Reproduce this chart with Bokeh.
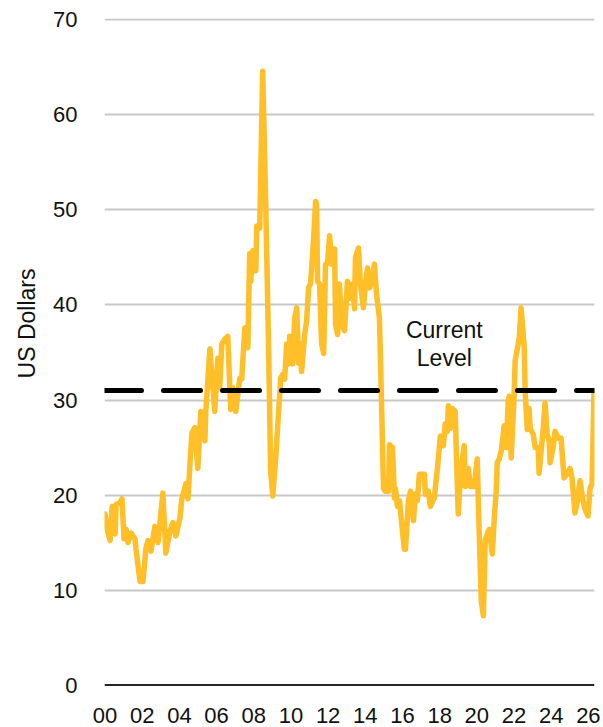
import math
from bokeh.plotting import figure
from bokeh.models import Range1d, FixedTicker, Span, Title, ColumnDataSource
from bokeh.embed import file_html
from bokeh.resources import INLINE
from bokeh.core.properties import value

# ---- data ----
years = [
    2000.00, 2000.11, 2000.27, 2000.38, 2000.54, 2000.59, 2000.81, 2000.91, 2001.02, 2001.13,
    2001.23, 2001.40, 2001.61, 2001.66, 2001.88, 2002.04, 2002.20, 2002.31, 2002.47, 2002.68,
    2002.85, 2003.11, 2003.27, 2003.49, 2003.65, 2003.81, 2004.03, 2004.13, 2004.35, 2004.46,
    2004.56, 2004.67, 2004.83, 2004.99, 2005.15, 2005.37, 2005.42, 2005.64, 2005.90, 2006.07,
    2006.17, 2006.28, 2006.44, 2006.60, 2006.76, 2006.87, 2007.03, 2007.25, 2007.35, 2007.52,
    2007.68, 2007.78, 2007.84, 2007.94, 2008.11, 2008.16, 2008.32, 2008.48, 2008.64, 2008.80,
    2008.91, 2009.02, 2009.18, 2009.45, 2009.56, 2009.66, 2009.77, 2009.88, 2009.93, 2010.09,
    2010.20, 2010.31, 2010.41, 2010.47, 2010.57, 2010.74, 2010.84, 2010.95, 2011.06, 2011.22,
    2011.33, 2011.38, 2011.43, 2011.54, 2011.65, 2011.76, 2011.86, 2011.97, 2012.08, 2012.19,
    2012.35, 2012.40, 2012.51, 2012.61, 2012.72, 2012.88, 2013.04, 2013.15, 2013.31, 2013.42,
    2013.47, 2013.63, 2013.74, 2013.90, 2014.01, 2014.12, 2014.23, 2014.33, 2014.49, 2014.60,
    2014.76, 2014.87, 2014.98, 2015.08, 2015.25, 2015.30, 2015.46, 2015.57, 2015.62, 2015.73,
    2015.84, 2016.00, 2016.10, 2016.16, 2016.32, 2016.43, 2016.59, 2016.69, 2016.80, 2016.91,
    2017.18, 2017.23, 2017.39, 2017.50, 2017.71, 2017.88, 2018.04, 2018.20, 2018.30, 2018.41,
    2018.47, 2018.57, 2018.68, 2018.84, 2018.90, 2019.00, 2019.06, 2019.16, 2019.32, 2019.38,
    2019.54, 2019.65, 2019.86, 2020.02, 2020.13, 2020.24, 2020.35, 2020.45, 2020.56, 2020.67,
    2020.83, 2020.94, 2021.04, 2021.10, 2021.20, 2021.31, 2021.47, 2021.58, 2021.69, 2021.74,
    2021.85, 2022.01, 2022.06, 2022.28, 2022.38, 2022.55, 2022.60, 2022.71, 2022.81, 2022.87,
    2023.03, 2023.14, 2023.30, 2023.35, 2023.46, 2023.57, 2023.67, 2023.78, 2023.89, 2023.94,
    2024.10, 2024.21, 2024.37, 2024.53, 2024.69, 2024.85, 2025.01, 2025.12, 2025.28, 2025.39,
    2025.55, 2025.71, 2025.82, 2025.98, 2026.09, 2026.20, 2026.30,
]
prices = [
    18.0, 16.4, 15.2, 18.8, 15.9, 19.0, 19.2, 19.6, 15.4, 16.4,
    15.0, 16.0, 15.4, 14.4, 10.9, 10.9, 14.4, 15.2, 14.1, 16.7,
    15.0, 20.2, 13.9, 16.2, 17.1, 15.7, 17.6, 19.6, 21.2, 19.6,
    23.0, 26.5, 27.1, 22.8, 28.8, 25.7, 28.8, 35.4, 28.8, 34.4,
    31.3, 35.9, 36.4, 36.7, 29.0, 31.3, 28.8, 32.3, 32.2, 37.6,
    35.5, 45.4, 42.5, 45.7, 43.6, 48.3, 48.1, 64.6, 50.9, 35.2,
    22.5, 19.9, 23.9, 32.3, 32.7, 32.2, 35.9, 33.8, 36.7, 33.8,
    38.6, 39.7, 33.9, 36.0, 33.0, 36.9, 38.3, 41.8, 42.3, 47.0,
    50.9, 50.6, 42.5, 42.2, 35.9, 34.9, 44.3, 44.4, 47.3, 44.3,
    45.9, 38.0, 36.9, 42.2, 38.0, 37.3, 42.5, 40.7, 42.2, 39.6,
    45.0, 46.0, 42.2, 39.7, 42.2, 43.9, 41.8, 42.2, 44.3, 41.2,
    38.6, 30.0, 20.7, 20.4, 20.4, 25.3, 25.0, 19.7, 20.7, 18.8,
    19.4, 16.2, 14.3, 14.3, 19.4, 20.4, 17.3, 20.1, 19.4, 22.2,
    22.2, 20.1, 20.4, 18.8, 19.7, 22.8, 26.2, 25.2, 27.5, 26.7,
    29.4, 27.0, 29.1, 28.8, 24.3, 18.0, 20.1, 22.8, 25.2, 20.9,
    22.8, 20.9, 20.9, 23.8, 15.9, 8.8, 7.3, 15.2, 15.9, 16.4,
    13.8, 17.6, 20.4, 23.4, 23.8, 24.6, 27.3, 25.0, 29.9, 30.4,
    23.9, 30.6, 34.1, 36.5, 39.7, 35.5, 30.9, 26.9, 29.1, 27.0,
    26.4, 25.0, 25.0, 22.3, 24.6, 27.0, 29.7, 26.4, 25.7, 23.4,
    25.0, 26.7, 26.0, 26.0, 21.8, 22.2, 22.8, 21.8, 18.1, 19.2,
    21.5, 19.4, 18.5, 17.8, 20.7, 21.2, 30.7,
]
current_level = 31.0
x_ticks = list(range(2000, 2027, 2))
x_tick_labels = [f"{t % 100:02d}" for t in x_ticks]
y_ticks = [0, 10, 20, 30, 40, 50, 60, 70]
y_title = "US Dollars"
note_lines = ["Current", "Level"]

FONT = "Liberation Sans"
GOLD = "#FEBF29"
INK = "#111111"

p = figure(
    frame_width=490, frame_height=668,
    x_range=Range1d(1999.97, 2026.33), y_range=Range1d(-0.15, 70.15),
    output_backend="svg", toolbar_location=None,
    min_border_left=102, min_border_right=8, min_border_top=18, min_border_bottom=40,
)
p.outline_line_color = None
p.background_fill_color = "white"
p.border_fill_color = "white"

# grid
p.xgrid.visible = False
p.ygrid.ticker = FixedTicker(ticks=[t for t in y_ticks if t != 0])
p.ygrid.grid_line_color = "#C8C8C8"
p.ygrid.grid_line_width = 2

# y axis
p.yaxis.ticker = FixedTicker(ticks=y_ticks)
p.yaxis.axis_line_color = None
p.yaxis.major_tick_line_color = None
p.yaxis.minor_tick_line_color = None
p.yaxis.major_label_standoff = 21
p.yaxis.major_label_text_font = FONT
p.yaxis.major_label_text_font_size = "22px"
p.yaxis.major_label_text_color = INK

# y title as a side title so it can be shifted along the axis
p.add_layout(Title(text=y_title, align="right", offset=250, standoff=22,
                   text_font=FONT, text_font_size="23px", text_font_style="normal",
                   text_color=INK), "left")

# x axis
p.xaxis.ticker = FixedTicker(ticks=x_ticks)
p.xaxis.major_label_overrides = {t: l for t, l in zip(x_ticks, x_tick_labels)}
p.xaxis.axis_line_color = None
p.xaxis.major_tick_line_color = None
p.xaxis.minor_tick_line_color = None
p.xaxis.major_label_standoff = 15
p.xaxis.major_label_text_font = FONT
p.xaxis.major_label_text_font_size = "22px"
p.xaxis.major_label_text_color = INK

# zero line
p.add_layout(Span(location=0, dimension="width", line_color="#262626", line_width=2))

# series
src = ColumnDataSource(dict(x=years, y=prices))
p.line("x", "y", source=src, line_color=GOLD, line_width=5.5, line_join="round", line_cap="round")

# current level
p.add_layout(Span(location=current_level, dimension="width", line_color="black",
                  line_width=5, line_dash="37 22", line_cap="round"))

p.text(x=[2018.25, 2018.25], y=[37.4, 34.4], text=note_lines,
       text_font=value(FONT), text_font_size="23px", text_color=INK,
       text_align="center", text_baseline="alphabetic")

open("out.html", "w").write(file_html(p, INLINE))
